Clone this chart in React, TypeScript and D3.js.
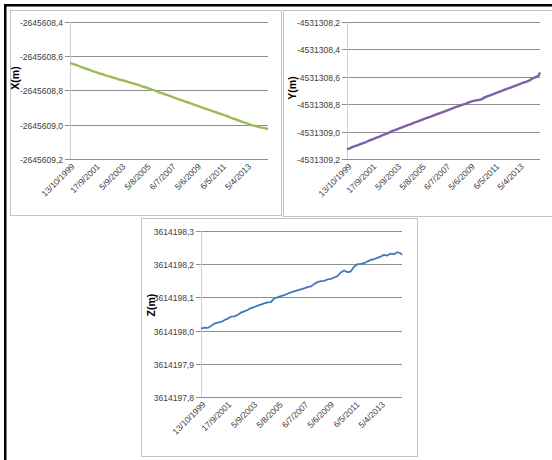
import * as d3 from 'd3';

// sample dates (roughly quarterly) shared by the three series
const sampleDates = [
  '1999-10-13',
  '2000-01-13', '2000-04-13', '2000-07-13', '2000-10-13',
  '2001-01-13', '2001-04-13', '2001-07-13', '2001-10-13',
  '2002-01-13', '2002-04-13', '2002-07-13', '2002-10-13',
  '2003-01-13', '2003-04-13', '2003-07-13', '2003-10-13',
  '2004-01-13', '2004-04-13', '2004-07-13', '2004-10-13',
  '2005-01-13', '2005-04-13', '2005-07-13', '2005-10-13',
  '2006-01-13', '2006-04-13', '2006-07-13', '2006-10-13',
  '2007-01-13', '2007-04-13', '2007-07-13', '2007-10-13',
  '2008-01-13', '2008-04-13', '2008-07-13', '2008-10-13',
  '2009-01-13', '2009-04-13', '2009-07-13', '2009-10-13',
  '2010-01-13', '2010-04-13', '2010-07-13', '2010-10-13',
  '2011-01-13', '2011-04-13', '2011-07-13', '2011-10-13',
  '2012-01-13', '2012-04-13', '2012-07-13', '2012-10-13',
  '2013-01-13', '2013-04-13', '2013-07-13', '2013-10-13',
  '2014-01-13', '2014-04-13', '2014-07-13', '2014-10-13',
  '2014-11-20',
];

const xValues = [
  -2645608.638, -2645608.646, -2645608.651, -2645608.660, -2645608.666,
  -2645608.673, -2645608.679, -2645608.688, -2645608.693, -2645608.701,
  -2645608.705, -2645608.713, -2645608.718, -2645608.724, -2645608.729,
  -2645608.736, -2645608.740, -2645608.745, -2645608.752, -2645608.757,
  -2645608.763, -2645608.768, -2645608.776, -2645608.781, -2645608.787,
  -2645608.795, -2645608.801, -2645608.809, -2645608.815, -2645608.822,
  -2645608.829, -2645608.835, -2645608.843, -2645608.850, -2645608.856,
  -2645608.864, -2645608.870, -2645608.877, -2645608.884, -2645608.890,
  -2645608.897, -2645608.904, -2645608.910, -2645608.917, -2645608.924,
  -2645608.930, -2645608.937, -2645608.944, -2645608.950, -2645608.958,
  -2645608.965, -2645608.971, -2645608.979, -2645608.986, -2645608.992,
  -2645608.999, -2645609.005, -2645609.009, -2645609.015, -2645609.018,
  -2645609.023, -2645609.027,
];

const yValues = [
  -4531309.130, -4531309.121, -4531309.110, -4531309.102, -4531309.094,
  -4531309.084, -4531309.076, -4531309.065, -4531309.057, -4531309.046,
  -4531309.038, -4531309.027, -4531309.019, -4531309.009, -4531308.997,
  -4531308.989, -4531308.980, -4531308.971, -4531308.962, -4531308.953,
  -4531308.945, -4531308.935, -4531308.927, -4531308.918, -4531308.909,
  -4531308.900, -4531308.892, -4531308.883, -4531308.874, -4531308.866,
  -4531308.857, -4531308.848, -4531308.840, -4531308.831, -4531308.822,
  -4531308.814, -4531308.805, -4531308.797, -4531308.788, -4531308.780,
  -4531308.774, -4531308.770, -4531308.766, -4531308.752, -4531308.741,
  -4531308.733, -4531308.724, -4531308.715, -4531308.706, -4531308.698,
  -4531308.689, -4531308.680, -4531308.671, -4531308.662, -4531308.654,
  -4531308.645, -4531308.637, -4531308.628, -4531308.613, -4531308.603,
  -4531308.590, -4531308.568,
];

const zValues = [
  3614198.006, 3614198.009, 3614198.008, 3614198.014, 3614198.021,
  3614198.024, 3614198.026, 3614198.031, 3614198.036, 3614198.042,
  3614198.043, 3614198.047, 3614198.054, 3614198.058, 3614198.062,
  3614198.068, 3614198.071, 3614198.075, 3614198.078, 3614198.082,
  3614198.085, 3614198.086, 3614198.097, 3614198.100, 3614198.104,
  3614198.107, 3614198.111, 3614198.115, 3614198.118, 3614198.121,
  3614198.124, 3614198.127, 3614198.131, 3614198.133, 3614198.140,
  3614198.146, 3614198.149, 3614198.150, 3614198.154, 3614198.156,
  3614198.160, 3614198.164, 3614198.175, 3614198.181, 3614198.176,
  3614198.178, 3614198.192, 3614198.200, 3614198.201, 3614198.203,
  3614198.208, 3614198.213, 3614198.215, 3614198.219, 3614198.223,
  3614198.228, 3614198.226, 3614198.232, 3614198.230, 3614198.236,
  3614198.233, 3614198.228,
];

const xTicks = [-2645608.4, -2645608.6, -2645608.8, -2645609.0, -2645609.2];
const yTicks = [-4531308.2, -4531308.4, -4531308.6, -4531308.8, -4531309.0, -4531309.2];
const zTicks = [3614198.3, 3614198.2, 3614198.1, 3614198.0, 3614197.9, 3614197.8];

const dateTicks = [
  '1999-10-13', '2001-09-17', '2003-09-05', '2005-08-05',
  '2007-07-06', '2009-06-05', '2011-05-06', '2013-04-05',
];
const dateDomain = ['1999-10-13', '2014-11-20'];

const parse = d3.timeParse('%Y-%m-%d');
const fmtDate = d3.timeFormat('%-d/%-m/%Y');
const fmtNum = (v: number) => v.toFixed(1).replace('.', ',');

const FONT = '"Liberation Sans", Arial, sans-serif';

type Box = { x: number; y: number; w: number; h: number };
type Plot = { left: number; right: number; top: number; bottom: number };

function Panel({
  box, plot, values, ticks, color, title, titlePos, strokeWidth,
}: {
  box: Box; plot: Plot; values: number[]; ticks: number[]; color: string;
  title: string; titlePos: [number, number]; strokeWidth: number;
}) {
  const xs = d3.scaleTime()
    .domain(dateDomain.map((d) => parse(d) as Date))
    .range([plot.left, plot.right]);
  const ys = d3.scaleLinear()
    .domain(d3.extent(ticks) as [number, number])
    .range([plot.bottom, plot.top]);

  const pts = sampleDates.map((d, i) => ({ date: parse(d) as Date, v: values[i] }));
  const line = d3.line<{ date: Date; v: number }>()
    .x((p) => xs(p.date))
    .y((p) => ys(p.v));

  return (
    <g>
      <rect x={box.x + 0.5} y={box.y + 0.5} width={box.w} height={box.h}
        fill="#fff" stroke="#c4c4c4" strokeWidth={1} />
      {ticks.map((t) => {
        const y = Math.round(ys(t)) + 0.5;
        return (
          <g key={t}>
            <line x1={plot.left - 5} x2={plot.right} y1={y} y2={y} stroke="#8e8e8e" strokeWidth={1} />
            <text x={plot.left - 7} y={y} textAnchor="end" dominantBaseline="central"
              fontSize={8.5} fill="#404040" fontFamily={FONT}>{fmtNum(t)}</text>
          </g>
        );
      })}
      <line x1={plot.left + 0.5} x2={plot.left + 0.5} y1={plot.top} y2={plot.bottom}
        stroke="#d0d0d0" strokeWidth={1} />
      {dateTicks.map((d) => {
        const dt = parse(d) as Date;
        const x = xs(dt);
        return (
          <text key={d} transform={`translate(${x + 3},${plot.bottom + 6}) rotate(-45)`}
            textAnchor="end" dominantBaseline="central" fontSize={8.5} fill="#404040"
            fontFamily={FONT}>{fmtDate(dt)}</text>
        );
      })}
      <path d={line(pts) ?? ''} fill="none" stroke={color} strokeWidth={strokeWidth}
        strokeLinejoin="round" />
      <text transform={`translate(${titlePos[0]},${titlePos[1]}) rotate(-90)`}
        textAnchor="middle" dominantBaseline="central" fontSize={10.5} fontWeight="bold"
        fill="#000" fontFamily={FONT}>{title}</text>
    </g>
  );
}

export default function App() {
  return (
    <svg width={552} height={460} style={{ position: 'absolute', left: 0, top: 0, background: '#fff' }}>
      <Panel box={{ x: 10, y: 10, w: 271, h: 205 }}
        plot={{ left: 70, right: 268, top: 22, bottom: 159 }}
        values={xValues} ticks={xTicks} color="#9BBB59" title="X(m)" titlePos={[15, 78]}
        strokeWidth={2.4} />
      <Panel box={{ x: 283, y: 10, w: 280, h: 206 }}
        plot={{ left: 347, right: 540, top: 22, bottom: 159 }}
        values={yValues} ticks={yTicks} color="#7F5FA6" title="Y(m)" titlePos={[292, 88]}
        strokeWidth={2.4} />
      <Panel box={{ x: 141, y: 218, w: 276, h: 238 }}
        plot={{ left: 201, right: 402, top: 231, bottom: 397 }}
        values={zValues} ticks={zTicks} color="#3F78BE" title="Z(m)" titlePos={[151, 305]}
        strokeWidth={1.8} />
      <rect x={4} y={4} width={548} height={2.5} fill="#000" />
      <rect x={4} y={4} width={2.5} height={456} fill="#000" />
    </svg>
  );
}
